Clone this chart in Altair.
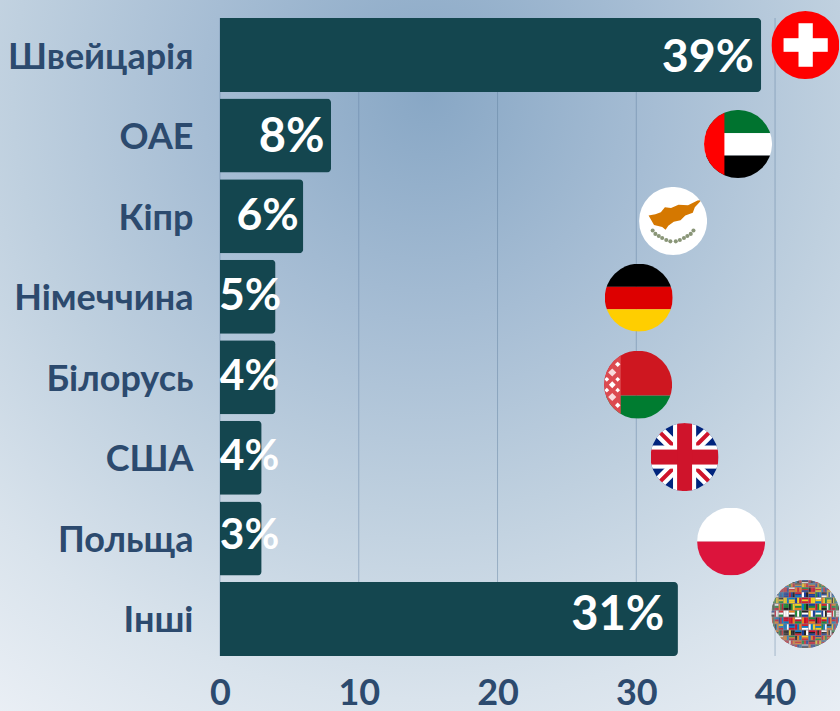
import base64
import altair as alt
import pandas as pd

categories = ["Швейцарія", "ОАЕ", "Кіпр", "Німеччина", "Білорусь", "США", "Польща", "Інші"]
bar_values = [39, 8, 6, 4, 4, 3, 3, 33]
label_texts = ["39%", "8%", "6%", "5%", "4%", "4%", "3%", "31%"]
label_ends = [38.47, 7.53, 5.67, 4.42, 4.27, 4.27, 4.27, 32.02]
flag_x = [42.18, 37.33, 32.65, 30.18, 30.13, 33.48, 36.83, 42.18]
flag_rank = [0.335, 1.563, 2.518, 3.47, 4.55, 5.447, 6.495, 7.395]
grid_values = [0, 10, 20, 30, 40]

INK = "#2c4a6e"
BAR = "#14464f"
FONT = "Lato"
LABEL_FONT_SIZES = {"39%": 46.5, "8%": 47, "6%": 44.5, "5%": 44.5, "4%": 42.5, "3%": 42.5, "31%": 47}


def flag(body):
    svg = (
        '<svg xmlns="http://www.w3.org/2000/svg" width="200" height="200" viewBox="0 0 100 100">'
        '<defs><clipPath id="c"><circle cx="50" cy="50" r="50"/></clipPath></defs>'
        f'<g clip-path="url(#c)">{body}</g></svg>'
    )
    return "data:image/svg+xml;base64," + base64.b64encode(svg.encode()).decode()


def rect(x, y, w, h, c):
    return f'<rect x="{x}" y="{y}" width="{w}" height="{h}" fill="{c}"/>'


swiss = rect(0, 0, 100, 100, "#ff0000") + rect(18, 40, 65, 20, "#fff") + rect(40, 18, 21, 64, "#fff")
uae = (rect(0, 0, 100, 34, "#00732f") + rect(0, 34, 100, 33, "#fff") + rect(0, 67, 100, 33, "#000")
       + rect(0, 0, 30, 100, "#ff0000"))
cyprus = (
    rect(0, 0, 100, 100, "#fff")
    + '<path d="M14 42 L24 40 L32 37 L38 30 L47 31 L58 26 L72 27 L86 20 L92 19 L82 30 L79 38 L68 42 L61 49 '
      'L51 51 L43 57 L39 63 L34 59 L22 56 Z" fill="#d57800"/>'
    + "".join(f'<circle cx="{x}" cy="{y}" r="3" fill="#8a9678"/>' for x, y in
              [(20, 64), (24, 69), (29, 72), (34, 75), (40, 78), (46, 80), (54, 80), (60, 78),
               (66, 75), (71, 72), (76, 69), (80, 64)])
)
germany = rect(0, 0, 100, 34, "#000") + rect(0, 34, 100, 33, "#dd0000") + rect(0, 67, 100, 33, "#ffce00")
ornament = "".join(
    f'<path d="M{x} {y - r} L{x + r} {y} L{x} {y + r} L{x - r} {y} Z" fill="#fff" fill-opacity="{o}"/>'
    for x, y, r, o in [(12, 8, 6, .9), (4, 20, 4, 1), (20, 20, 4, 1), (12, 32, 6, .8), (4, 42, 3.5, 1),
                       (20, 42, 3.5, 1), (12, 50, 5, 1), (4, 58, 3.5, 1), (20, 58, 3.5, 1), (12, 68, 6, .8),
                       (4, 80, 4, 1), (20, 80, 4, 1), (12, 92, 6, .9)]
)
belarus = (rect(0, 0, 100, 66, "#ce1720") + rect(0, 66, 100, 34, "#007c30") + rect(0, 0, 24.5, 100, "#dc4a50")
           + ornament)
uk = (
    rect(0, 0, 100, 100, "#00247d")
    + '<path d="M0 0 L100 100 M100 0 L0 100" stroke="#fff" stroke-width="18"/>'
    + '<path d="M0 0 L100 100 M100 0 L0 100" stroke="#cf142b" stroke-width="6"/>'
    + rect(0, 33, 100, 34, "#fff") + rect(33, 0, 34, 100, "#fff")
    + rect(0, 39, 100, 22, "#cf142b") + rect(39, 0, 22, 100, "#cf142b")
)
poland = rect(0, 0, 100, 50, "#fff") + rect(0, 50, 100, 50, "#dc143c")

palette = ["#d81e2c", "#1a3f9c", "#f4d21f", "#1b8a3a", "#ffffff", "#c8102e", "#0a7bc4", "#222222", "#ee7f1b"]
rows = [0, 5, 11, 18, 26, 35, 45, 55, 65, 74, 82, 89, 95, 100]
cols = [0, 5, 11, 18, 26, 35, 45, 55, 65, 74, 82, 89, 95, 100]
world = rect(0, 0, 100, 100, "#8a7a80")
idx = 0
for r in range(13):
    for c in range(13):
        x, w = cols[c], cols[c + 1] - cols[c]
        y, h = rows[r], rows[r + 1] - rows[r]
        idx += 1
        a = palette[(idx * 4 + r * 3) % 9]
        b = palette[(idx * 7 + c * 2) % 9]
        e = palette[(idx * idx + r * 5) % 9]
        gw = w * 0.92
        gh = h * 0.88
        if idx % 2:
            world += (rect(x, y, round(gw, 2), round(gh / 3, 2), a)
                      + rect(x, round(y + gh / 3, 2), round(gw, 2), round(gh / 3, 2), b)
                      + rect(x, round(y + 2 * gh / 3, 2), round(gw, 2), round(gh / 3, 2), e))
        else:
            world += (rect(x, y, round(gw / 3, 2), round(gh, 2), a)
                      + rect(round(x + gw / 3, 2), y, round(gw / 3, 2), round(gh, 2), b)
                      + rect(round(x + 2 * gw / 3, 2), y, round(gw / 3, 2), round(gh, 2), e))
world += ('<defs><radialGradient id="s"><stop offset="0.6" stop-color="#999" stop-opacity="0"/>'
          '<stop offset="1" stop-color="#999" stop-opacity="0.5"/></radialGradient></defs>'
          '<circle cx="50" cy="50" r="50" fill="url(#s)"/>')

flag_images = [flag(b) for b in [swiss, uae, cyprus, germany, belarus, uk, poland, world]]

df = pd.DataFrame({
    "category": categories,
    "value": bar_values,
    "label": label_texts,
    "label_end": label_ends,
    "label_size": [LABEL_FONT_SIZES[t] for t in label_texts],
    "flag_x": flag_x,
    "flag_rank": flag_rank,
    "flag": flag_images,
})

x_scale = alt.Scale(domain=[0, 44.68], nice=False, zero=False)
band = alt.Scale(domain=categories, paddingInner=0.0815, paddingOuter=0)
x_axis = alt.Axis(
    values=grid_values, format="d", grid=False, domain=False, ticks=False, zindex=1,
    labelFont=FONT, labelFontWeight="bold", labelFontSize=36, labelColor=INK, labelPadding=48,
    labelBaseline="alphabetic", labelOverlap=False, labelFlush=False, title=None)

background = alt.Chart(alt.Data(values=[{}])).mark_rect(
    fill={
        "gradient": "radial",
        "x1": 0.51, "y1": 0.19, "r1": 0,
        "x2": 0.51, "y2": 0.19, "r2": 0.9,
        "stops": [
            {"offset": 0, "color": "#88a7c5"},
            {"offset": 0.3, "color": "#a6bdd4"},
            {"offset": 0.55, "color": "#bfd0df"},
            {"offset": 0.8, "color": "#d9e3ec"},
            {"offset": 1, "color": "#eaeff5"},
        ],
    }
).encode(x=alt.value(-220), x2=alt.value(620), y=alt.value(-18), y2=alt.value(693))

grid = alt.Chart(pd.DataFrame({"tick": grid_values})).mark_rule(
    color="#5f7f9f", opacity=0.45, strokeWidth=1
).encode(x=alt.X("tick:Q", scale=x_scale, axis=x_axis))

bars = alt.Chart(df).mark_bar(color=BAR, cornerRadiusEnd=4).encode(
    x=alt.X("value:Q", scale=x_scale, axis=x_axis),
    y=alt.Y("category:N", scale=band, sort=categories, title=None, axis=alt.Axis(
        grid=False, domain=False, ticks=False, zindex=1,
        labelFont=FONT, labelFontWeight="bold", labelFontSize=36, labelColor=INK, labelPadding=27,
        labelLimit=300, labelOffset=2.5)),
)

labels = alt.Chart(df).mark_text(
    font=FONT, fontWeight="bold", color="#ffffff", align="right", baseline="middle"
).encode(
    x=alt.X("label_end:Q", scale=x_scale, axis=x_axis),
    y=alt.Y("category:N", scale=band, sort=categories, axis=None),
    text="label:N",
    size=alt.Size("label_size:Q", scale=None, legend=None),
)

flags = alt.Chart(df).mark_image(width=68, height=68).encode(
    x=alt.X("flag_x:Q", scale=x_scale, axis=x_axis),
    y=alt.Y("flag_rank:Q", scale=alt.Scale(domain=[0, 7.915], reverse=True, nice=False, zero=False), axis=None),
    url="flag:N",
)

chart = alt.layer(background, grid, bars, labels, flags).resolve_scale(y="independent").properties(
    width=620, height=638, padding=0
).configure_view(stroke=None)

chart.save("out.html", embed_options={
    "renderer": "svg", "actions": False,
    "defaultStyle": "html,body{margin:0;padding:0;overflow:hidden}",
})
